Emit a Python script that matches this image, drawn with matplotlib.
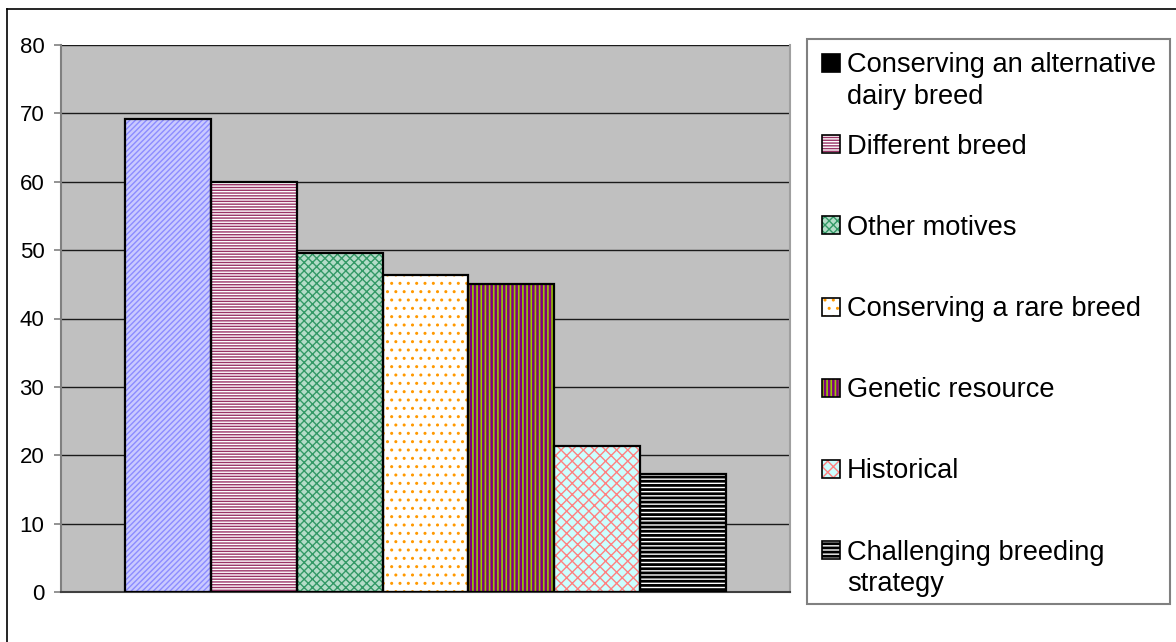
import numpy as np
import matplotlib
matplotlib.use("Agg")
from matplotlib import pyplot as plt
from matplotlib.patches import Rectangle
from matplotlib.lines import Line2D

plt.rcParams['font.family'] = ['Liberation Sans', 'DejaVu Sans']

motives = [
    "Conserving an alternative\ndairy breed",
    "Different breed",
    "Other motives",
    "Conserving a rare breed",
    "Genetic resource",
    "Historical",
    "Challenging breeding\nstrategy",
]
percent = [69.2, 60.0, 49.6, 46.4, 45.0, 21.3, 17.3]
y_ticks = [0, 10, 20, 30, 40, 50, 60, 70, 80]

# fill colour, hatch pattern, hatch colour, hatch line width
styles = [
    ("#CACAFF", "//////", "#8C8CFF", 1.0),
    ("#FFFFFF", "------", "#993366", 1.0),
    ("#B4DCC8", "xxxx", "#339966", 1.0),
    ("#FFFFFF", "..", "#FF9900", 1.0),
    ("#800080", "||||", "#99CC00", 1.2),
    ("#CCFFFF", "xxx", "#FF8080", 1.0),
    ("#FFFFFF", "----", "#000000", 2.0),
]

W, H = 1176, 642
fig = plt.figure(figsize=(W / 100, H / 100), dpi=100)
ax = fig.add_axes([61 / W, 1 - 592 / H, (790 - 61) / W, (592 - 45) / H])
ax.set_facecolor("#C0C0C0")

x = np.arange(len(percent))
for i, (val, (fc, hatch, hc, hlw)) in enumerate(zip(percent, styles)):
    with plt.rc_context({"hatch.linewidth": hlw}):
        ax.bar(x[i], val, width=1.0, color=fc, edgecolor=hc, hatch=hatch,
               linewidth=0, zorder=2)
    ax.bar(x[i], val, width=1.0, fill=False, edgecolor="black",
           linewidth=1.6, zorder=3)

ax.set_xlim(-1.25, len(percent) - 1 + 1.25)
ax.set_ylim(0, 80)
ax.set_yticks(y_ticks)
ax.set_xticks([])
ax.tick_params(axis="y", labelsize=16, length=5, width=1.2, color="#808080", pad=7)
ax.yaxis.grid(True, color="#1A1A1A", linewidth=1.0, zorder=1)
ax.set_axisbelow(True)
ax.spines["top"].set_visible(False)
ax.spines["left"].set_color("#808080")
ax.spines["left"].set_linewidth(1.5)
ax.spines["bottom"].set_color("#404040")
ax.spines["bottom"].set_linewidth(1.5)
ax.spines["right"].set_color("#A0A0A0")
ax.spines["right"].set_linewidth(1.5)

# outer chart border (only top and left fall inside the image)
fig.add_artist(Line2D([7 / W, 1], [1 - 9 / H, 1 - 9 / H], color="black", lw=1.2))
fig.add_artist(Line2D([7 / W, 7 / W], [1 - 9 / H, 0], color="black", lw=1.2))

# legend box
fig.add_artist(Rectangle((807 / W, 1 - 604 / H), (1170 - 807) / W, (604 - 39) / H,
                         transform=fig.transFigure, facecolor="white",
                         edgecolor="#808080", linewidth=1.5))
for i, (label, (fc, hatch, hc, hlw)) in enumerate(zip(motives, styles)):
    cy = 63 + i * 81.2
    if i == 0:
        key = dict(facecolor="black", edgecolor="black", hatch=None)
    else:
        key = dict(facecolor=fc, edgecolor=hc, hatch=hatch)
    with plt.rc_context({"hatch.linewidth": hlw}):
        fig.add_artist(Rectangle((822 / W, 1 - (cy + 9) / H), 18 / W, 18 / H,
                                 transform=fig.transFigure, linewidth=0, **key))
    fig.add_artist(Rectangle((822 / W, 1 - (cy + 9) / H), 18 / W, 18 / H,
                             transform=fig.transFigure, fill=False,
                             edgecolor="black", linewidth=1.2))
    # one text per line so the first line sits beside the key
    for k, line in enumerate(label.split("\n")):
        fig.text(847 / W, 1 - (cy + 9.5 + 31 * k) / H, line, fontsize=19.6,
                 va="baseline", ha="left")

fig.savefig("out.png", dpi=100)
